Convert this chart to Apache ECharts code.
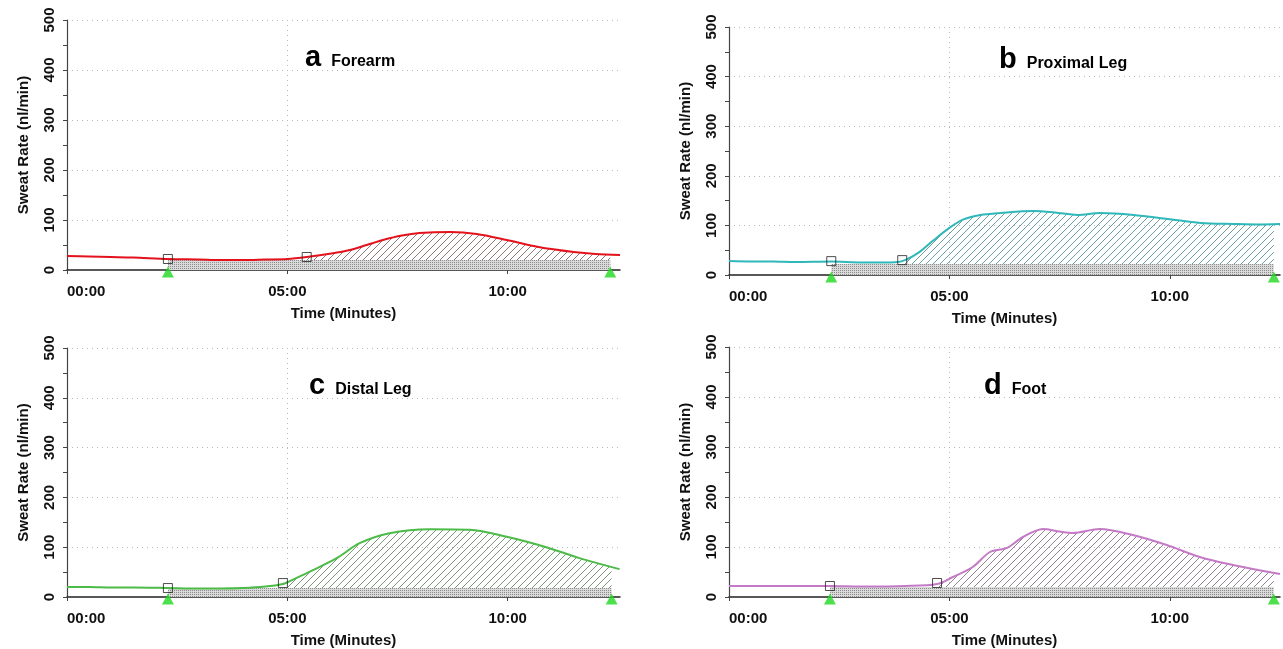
<!DOCTYPE html>
<html>
<head>
<meta charset="utf-8">
<script src="https://cdn.jsdelivr.net/npm/echarts@6/dist/echarts.min.js"></script>
<style>
html,body{margin:0;padding:0;background:#fff;}
#chart{width:1283px;height:649px;}
</style>
</head>
<body>
<div id="chart"></div>
<script>
// ---------- DATA ----------
const xTickValues = [0, 5, 10];
const xTickLabels = ['00:00', '05:00', '10:00'];
const yTickValues = [0, 100, 200, 300, 400, 500];

// Panel a – Forearm
const timesA  = [0, 0.5, 1.0, 1.5, 2.29, 3.0, 3.5, 4.0, 4.5, 5.0, 5.44, 6.0, 6.42, 6.8, 7.17, 7.6, 8.0, 8.7, 9.3, 9.98, 10.7, 11.5, 12.0, 12.55];
const valuesA = [28, 27, 26, 25, 22, 21, 20, 20, 21, 22, 26, 33, 40, 50, 60, 69, 74, 76, 72, 60, 46, 36, 32, 30];
// Panel b – Proximal Leg
const timesB  = [0, 0.5, 1.0, 1.5, 2.32, 3.0, 3.5, 3.93, 4.3, 4.64, 5.0, 5.32, 5.7, 6.16, 6.9, 7.4, 7.9, 8.43, 9.18, 9.95, 10.7, 11.45, 12.0, 12.5];
const valuesB = [28, 27, 27, 26, 27, 25, 25, 28, 45, 70, 95, 112, 121, 125, 129, 126, 121, 125, 121, 113, 105, 103, 102, 103];
// Panel c – Distal Leg
const timesC  = [0, 0.5, 1.0, 1.5, 2.29, 3.0, 3.5, 4.0, 4.5, 4.9, 5.2, 5.58, 6.12, 6.64, 7.32, 8.23, 9.14, 9.98, 10.88, 11.63, 12.54];
const valuesC = [20, 20, 19, 19, 18, 17, 17, 18, 21, 26, 38, 54, 78, 108, 128, 136, 135, 121, 100, 78, 56];
// Panel d – Foot
const timesD  = [0, 1.0, 2.29, 3.0, 4.0, 4.72, 5.08, 5.53, 5.92, 6.3, 6.67, 7.12, 7.5, 7.8, 8.41, 9.16, 9.93, 10.68, 11.43, 12.0, 12.5];
const valuesD = [22, 22, 22, 21, 22, 26, 40, 60, 90, 98, 120, 136, 131, 128, 136, 124, 104, 80, 64, 54, 46];

// event markers: [start time, stimulus time, end time]
const eventTimesA = [2.29, 5.44, 12.33];
const eventTimesB = [2.32, 3.93, 12.36];
const eventTimesC = [2.29, 4.9, 12.36];
const eventTimesD = [2.29, 4.72, 12.36];
// sweat rate at start marker, stimulus marker and end
const eventValuesA = [22, 26, 31];
const eventValuesB = [28, 30, 103];
const eventValuesC = [18, 28, 60];
const eventValuesD = [22, 28, 48];
// baseline level (stippled band)
const baselines = [20, 22, 18, 20];

const panelLetters = ['a', 'b', 'c', 'd'];
const panelNames = ['Forearm', 'Proximal Leg', 'Distal Leg', 'Foot'];
const xMax = [12.55, 12.5, 12.55, 12.5];

// ---------- STYLE ----------
const lineColors = ['#e3121c', '#2fb7b9', '#4cbb47', '#c47ac6'];
const hatchColors = ['#6e5858', '#4a8586', '#587c58', '#756475'];
const grids = [
  {left: 67, top: 20, width: 553, height: 250},
  {left: 729, top: 27, width: 551, height: 248},
  {left: 67, top: 348, width: 553, height: 249},
  {left: 729, top: 347, width: 551, height: 250}
];
const titlePos = [
  {left: 300, top: 38},
  {left: 994, top: 40},
  {left: 304, top: 366},
  {left: 979, top: 366}
];
const FONT = '"Liberation Sans", Arial, sans-serif';

function hatchPattern(color) {
  const c = document.createElement('canvas');
  c.width = 7; c.height = 7;
  const g = c.getContext('2d');
  g.strokeStyle = color; g.lineWidth = 0.8;
  g.beginPath();
  g.moveTo(0, 7); g.lineTo(7, 0);
  g.moveTo(-1, 1); g.lineTo(1, -1);
  g.moveTo(6, 8); g.lineTo(8, 6);
  g.stroke();
  return c;
}
function stipplePattern() {
  const c = document.createElement('canvas');
  c.width = 2; c.height = 2;
  const g = c.getContext('2d');
  g.fillStyle = '#dadada'; g.fillRect(0, 0, 2, 2);
  g.fillStyle = '#8c8c8c'; g.fillRect(0, 0, 1, 1);
  return c;
}
const stipple = stipplePattern();

const times = [timesA, timesB, timesC, timesD];
const values = [valuesA, valuesB, valuesC, valuesD];
const evT = [eventTimesA, eventTimesB, eventTimesC, eventTimesD];
const evV = [eventValuesA, eventValuesB, eventValuesC, eventValuesD];

const option = {
  animation: false,
  backgroundColor: '#fff',
  textStyle: {fontFamily: FONT},
  grid: grids,
  title: [],
  xAxis: [],
  yAxis: [],
  series: []
};

for (let i = 0; i < 4; i++) {
  option.title.push({
    left: titlePos[i].left, top: titlePos[i].top,
    text: '{big|' + panelLetters[i] + '}  {small|' + panelNames[i] + '}',
    textStyle: {
      rich: {
        big: {fontSize: 29, fontWeight: 'bold', color: '#000', fontFamily: FONT},
        small: {fontSize: 16, fontWeight: 'bold', color: '#000', fontFamily: FONT, verticalAlign: 'bottom', padding: [0, 0, 2, 0]}
      }
    }
  });
  option.xAxis.push({
    type: 'value', gridIndex: i, min: 0, max: xMax[i],
    axisLine: {show: true, onZero: false, lineStyle: {color: '#222', width: 1.5}},
    axisTick: {show: true, length: 4, customValues: xTickValues, lineStyle: {color: '#444'}},
    axisLabel: {
      customValues: xTickValues,
      formatter: v => xTickLabels[xTickValues.indexOf(v)] || '',
      fontSize: 15, fontWeight: 'bold', color: '#111', margin: 14, fontFamily: FONT,
      alignMinLabel: 'left'
    },
    splitLine: {show: true, showMinLine: false, showMaxLine: false, lineStyle: {type: [1, 4], color: '#b8b8b8', width: 1}},
    name: 'Time (Minutes)', nameLocation: 'middle', nameGap: 36,
    nameTextStyle: {fontSize: 15, fontWeight: 'bold', color: '#111', fontFamily: FONT}
  });
  option.yAxis.push({
    type: 'value', gridIndex: i, min: 0, max: 500, interval: 100,
    axisLine: {show: true, lineStyle: {color: '#444', width: 1.2}},
    axisTick: {show: true, length: 4, lineStyle: {color: '#444'}},
    minorTick: {show: true, splitNumber: 2, length: 4, lineStyle: {color: '#444'}},
    axisLabel: {
      customValues: yTickValues,
      rotate: 90, fontSize: 15, fontWeight: 'bold', color: '#111', margin: 10, fontFamily: FONT
    },
    splitLine: {show: true, showMinLine: false, lineStyle: {type: [1, 4], color: '#b8b8b8', width: 1}},
    name: 'Sweat Rate (nl/min)', nameLocation: 'middle', nameGap: 36,
    nameTextStyle: {fontSize: 15, fontWeight: 'bold', color: '#111', fontFamily: FONT}
  });

  const t = times[i], v = values[i];
  const curve = t.map((x, k) => [x, v[k]]);
  const [tStart, tStim, tEnd] = evT[i];
  const [vStart, vStim, vEnd] = evV[i];
  const hatchData = [[tStim, vStim]]
    .concat(curve.filter(p => p[0] > tStim && p[0] < tEnd))
    .concat([[tEnd, vEnd]]);

  option.series.push({
    type: 'line', xAxisIndex: i, yAxisIndex: i, data: hatchData, smooth: 0.3,
    symbol: 'none', lineStyle: {width: 0}, z: 2,
    areaStyle: {color: {image: hatchPattern(hatchColors[i]), repeat: 'repeat'}, opacity: 1}
  });
  option.series.push({
    type: 'line', xAxisIndex: i, yAxisIndex: i,
    data: [[tStart, baselines[i]], [tEnd, baselines[i]]],
    symbol: 'none', lineStyle: {width: 0}, z: 3,
    areaStyle: {color: {image: stipple, repeat: 'repeat'}, opacity: 1}
  });
  option.series.push({
    type: 'line', xAxisIndex: i, yAxisIndex: i, data: curve, smooth: 0.3,
    symbol: 'none', lineStyle: {width: 2, color: lineColors[i]}, z: 4
  });
  option.series.push({
    type: 'scatter', xAxisIndex: i, yAxisIndex: i, clip: false,
    data: [[tStart, vStart], [tStim, vStim]],
    symbol: 'rect', symbolSize: 9, z: 6,
    itemStyle: {color: 'rgba(255,255,255,0)', borderColor: '#222', borderWidth: 1}
  });
  option.series.push({
    type: 'scatter', xAxisIndex: i, yAxisIndex: i, clip: false,
    data: [[tStart, 0], [tEnd, 0]],
    symbol: 'triangle', symbolSize: [12, 11], symbolOffset: [0, 2], z: 7,
    itemStyle: {color: '#1fd81f'}
  });
}

const chart = echarts.init(document.getElementById('chart'), null, {renderer: 'canvas'});
chart.setOption(option);
</script>
</body>
</html>
